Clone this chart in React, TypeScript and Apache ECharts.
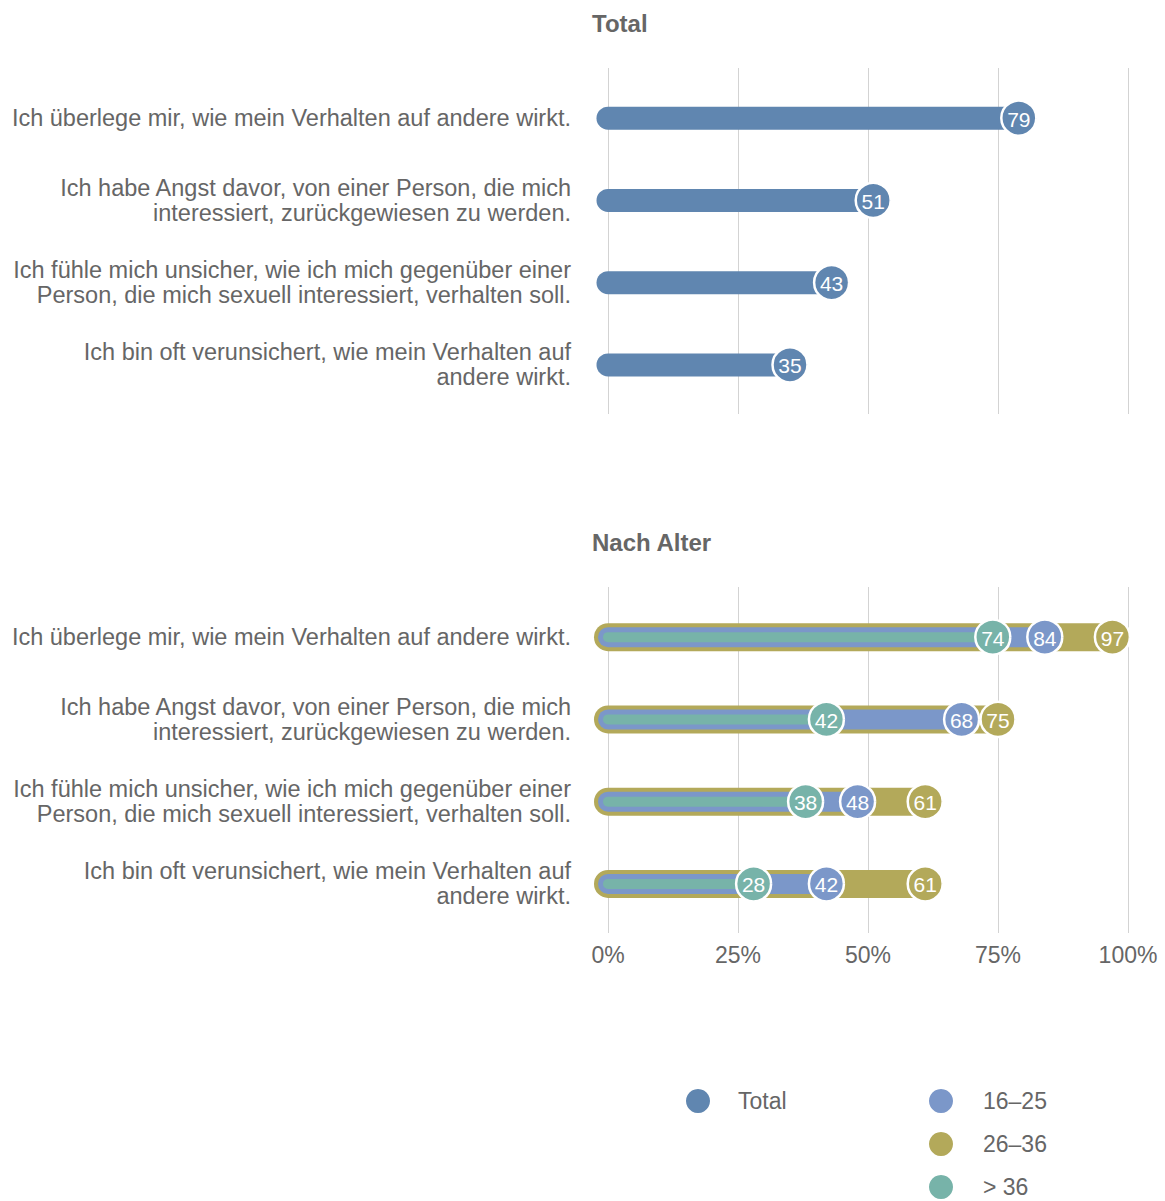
import React, { useEffect, useRef } from "react";
import * as echarts from "echarts";

const categories = [
  "Ich überlege mir, wie mein Verhalten auf andere wirkt.",
  "Ich habe Angst davor, von einer Person, die mich\ninteressiert, zurückgewiesen zu werden.",
  "Ich fühle mich unsicher, wie ich mich gegenüber einer\nPerson, die mich sexuell interessiert, verhalten soll.",
  "Ich bin oft verunsichert, wie mein Verhalten auf\nandere wirkt.",
];
const totalValues = [79, 51, 43, 35];
const age16to25 = [84, 68, 48, 42];
const age26to36 = [97, 75, 61, 61];
const ageOver36 = [74, 42, 38, 28];
const xTicks = [0, 25, 50, 75, 100];

const FONT = "'Liberation Sans', Arial, Helvetica, sans-serif";
const TEXT = "#666666";
const C_TOTAL = "#6086b0";
const C_16 = "#7b97c9";
const C_26 = "#b3a95a";
const C_36 = "#77b3a9";

function makeRender(thickness: number, color: string) {
  return (params: any, api: any) => {
    const v = api.value(0);
    const idx = api.value(1);
    const p0 = api.coord([0, idx]);
    const p1 = api.coord([v, idx]);
    const h = thickness;
    const r = 17.5;
    return {
      type: "group",
      children: [
        {
          type: "rect",
          shape: { x: p0[0] - h / 2, y: p0[1] - h / 2, width: p1[0] - p0[0] + h / 2, height: h, r: [h / 2, 0, 0, h / 2] },
          style: { fill: color },
        },
        {
          type: "circle",
          shape: { cx: p1[0], cy: p1[1], r },
          style: { fill: color, stroke: "#ffffff", lineWidth: 2.5 },
          z2: 10,
        },
        {
          type: "text",
          x: p1[0],
          y: p1[1] + 1,
          style: { text: String(v), fill: "#ffffff", font: `21px ${FONT}`, align: "center", verticalAlign: "middle" },
          z2: 11,
        },
      ],
    };
  };
}

export default function App() {
  const ref = useRef<HTMLDivElement>(null);
  useEffect(() => {
    if (!ref.current) return;
    const chart = echarts.init(ref.current, null, { renderer: "svg" });
    const gridLeft = 608;
    const gridWidth = 520;
    const catAxis = (gridIndex: number) => ({
      type: "category",
      gridIndex,
      data: categories,
      inverse: true,
      axisLine: { show: false },
      axisTick: { show: false },
      splitLine: { show: false },
      axisLabel: { color: TEXT, fontSize: 23.5, fontFamily: FONT, lineHeight: 25, margin: 37, align: "right" },
    });
    const hiddenCat = (gridIndex: number) => ({
      type: "category",
      gridIndex,
      data: categories,
      show: false,
    });
    const valAxis = (gridIndex: number, showSplit: boolean, showLabels: boolean) => ({
      type: "value",
      gridIndex,
      min: 0,
      max: 100,
      interval: 25,
      axisLine: { show: false },
      axisTick: { show: false },
      splitLine: { show: showSplit, lineStyle: { color: "#d3d3d3", width: 1 } },
      axisLabel: {
        show: showLabels,
        color: TEXT,
        fontSize: 23,
        fontFamily: FONT,
        margin: 10,
        formatter: (v: number) => (xTicks.includes(v) ? `${v}%` : ""),
      },
    });
    const data = (arr: number[]) => arr.map((v, i) => [v, i]);
    const legendText = { color: TEXT, fontSize: 23, fontFamily: FONT };
    chart.setOption({
      animation: false,
      title: [
        { text: "Total", left: 587, top: 6, textStyle: { color: TEXT, fontSize: 24, fontWeight: "bold", fontFamily: FONT } },
        { text: "Nach Alter", left: 587, top: 525, textStyle: { color: TEXT, fontSize: 24, fontWeight: "bold", fontFamily: FONT } },
      ],
      grid: [
        { left: gridLeft, width: gridWidth, top: 68, height: 346 },
        { left: gridLeft, width: gridWidth, top: 77, height: 329 },
        { left: gridLeft, width: gridWidth, top: 587, height: 346 },
        { left: gridLeft, width: gridWidth, top: 596, height: 329 },
      ],
      xAxis: [valAxis(0, true, false), valAxis(1, false, false), valAxis(2, true, true), valAxis(3, false, false)],
      yAxis: [hiddenCat(0), catAxis(1), hiddenCat(2), catAxis(3)],
      legend: [
        {
          data: ["Total"],
          left: 686,
          top: 1089,
          padding: 0,
          itemWidth: 70,
          itemHeight: 24,
          icon: "circle",
          textStyle: legendText,
          selectedMode: false,
        },
        {
          data: ["16–25", "26–36", "> 36"],
          orient: "vertical",
          left: 929,
          top: 1089,
          padding: 0,
          height: 112,
          itemWidth: 74,
          itemHeight: 24,
          itemGap: 19,
          icon: "circle",
          textStyle: legendText,
          selectedMode: false,
        },
      ],
      series: [
        {
          name: "Total",
          type: "custom",
          xAxisIndex: 1,
          yAxisIndex: 1,
          itemStyle: { color: C_TOTAL },
          encode: { x: 0, y: 1 },
          data: data(totalValues),
          renderItem: makeRender(23, C_TOTAL),
        },
        {
          name: "26–36",
          type: "custom",
          xAxisIndex: 3,
          yAxisIndex: 3,
          itemStyle: { color: C_26 },
          encode: { x: 0, y: 1 },
          data: data(age26to36),
          renderItem: makeRender(28, C_26),
        },
        {
          name: "16–25",
          type: "custom",
          xAxisIndex: 3,
          yAxisIndex: 3,
          itemStyle: { color: C_16 },
          encode: { x: 0, y: 1 },
          data: data(age16to25),
          renderItem: makeRender(20, C_16),
        },
        {
          name: "> 36",
          type: "custom",
          xAxisIndex: 3,
          yAxisIndex: 3,
          itemStyle: { color: C_36 },
          encode: { x: 0, y: 1 },
          data: data(ageOver36),
          renderItem: makeRender(10, C_36),
        },
      ],
    });
    return () => chart.dispose();
  }, []);
  return <div ref={ref} style={{ position: "absolute", left: 0, top: 0, width: 1165, height: 1201 }} />;
}
